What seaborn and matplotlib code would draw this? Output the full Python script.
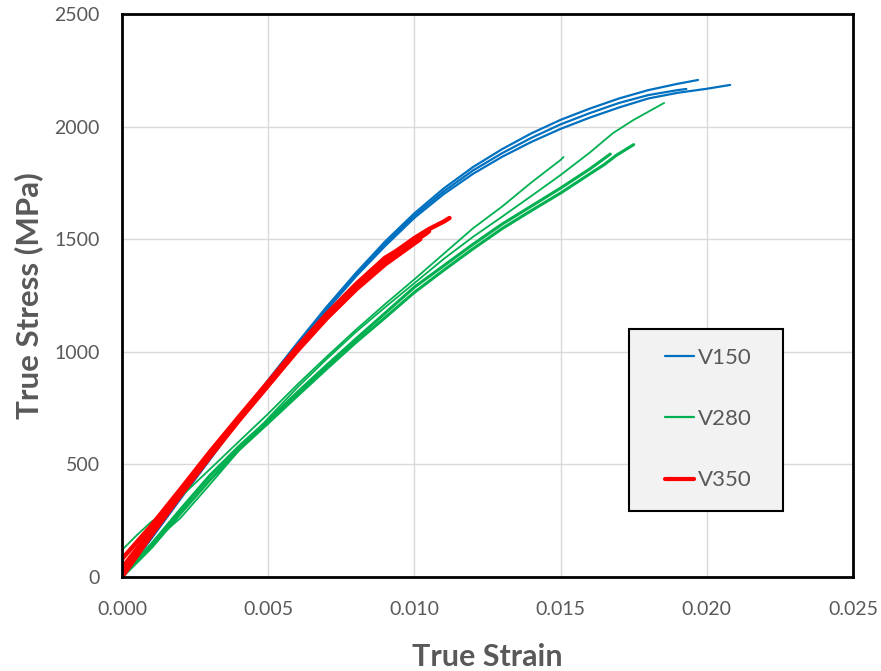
import numpy as np
import pandas as pd
import matplotlib
matplotlib.use("Agg")
import matplotlib.pyplot as plt
import seaborn as sns
from matplotlib.lines import Line2D
from matplotlib.patches import Rectangle

# ---------------- data ----------------
groups = ["V150", "V280", "V350"]
group_colors = ["#0070C0", "#00B050", "#FF0000"]

# V150 specimens
b1_strain = [0, 0.001, 0.002, 0.003, 0.004, 0.005, 0.006, 0.007, 0.008, 0.009, 0.010,
             0.011, 0.012, 0.013, 0.014, 0.015, 0.016, 0.017, 0.018, 0.019, 0.0197]
b1_stress = [0, 175, 355, 530, 705, 875, 1040, 1200, 1350, 1490, 1615,
             1725, 1820, 1900, 1970, 2030, 2080, 2125, 2162, 2190, 2207]
b2_strain = [0, 0.001, 0.002, 0.003, 0.004, 0.005, 0.006, 0.007, 0.008, 0.009, 0.010,
             0.011, 0.012, 0.013, 0.014, 0.015, 0.016, 0.017, 0.018, 0.019, 0.0193]
b2_stress = [0, 172, 350, 525, 700, 868, 1033, 1192, 1342, 1480, 1605,
             1712, 1805, 1882, 1950, 2010, 2060, 2105, 2140, 2162, 2167]
b3_strain = [0, 0.001, 0.002, 0.003, 0.004, 0.005, 0.006, 0.007, 0.008, 0.009, 0.010,
             0.011, 0.012, 0.013, 0.014, 0.015, 0.016, 0.017, 0.018, 0.019, 0.020, 0.0208]
b3_stress = [0, 170, 347, 520, 695, 862, 1027, 1185, 1335, 1470, 1595,
             1700, 1790, 1866, 1932, 1990, 2040, 2085, 2125, 2150, 2168, 2185]

# V280 specimens
g1_strain = [0, 0.0005, 0.001, 0.0015, 0.002, 0.003, 0.004, 0.005, 0.006, 0.007, 0.008,
             0.009, 0.010, 0.011, 0.012, 0.013, 0.014, 0.015, 0.0151]
g1_stress = [120, 185, 245, 290, 355, 478, 602, 725, 855, 978, 1098,
             1212, 1322, 1435, 1548, 1645, 1752, 1852, 1865]
g2_strain = [0, 0.0005, 0.001, 0.0015, 0.002, 0.003, 0.004, 0.005, 0.006, 0.007, 0.008,
             0.009, 0.010, 0.011, 0.012, 0.013, 0.014, 0.015, 0.016, 0.0168, 0.0175, 0.01854]
g2_stress = [0, 70, 145, 205, 262, 410, 562, 705, 842, 968, 1088,
             1198, 1305, 1412, 1510, 1600, 1692, 1785, 1885, 1972, 2030, 2105]
g3_strain = [0, 0.0005, 0.001, 0.002, 0.003, 0.004, 0.005, 0.006, 0.007, 0.008,
             0.009, 0.010, 0.011, 0.012, 0.013, 0.014, 0.015, 0.016, 0.0167]
g3_stress = [0, 75, 145, 300, 450, 580, 697, 820, 940, 1057,
             1172, 1287, 1382, 1477, 1567, 1647, 1727, 1812, 1878]
g4_strain = [0, 0.0005, 0.001, 0.002, 0.003, 0.004, 0.005, 0.006, 0.007, 0.008,
             0.009, 0.010, 0.011, 0.012, 0.013, 0.014, 0.015, 0.016, 0.0165, 0.0169, 0.0175]
g4_stress = [0, 65, 130, 282, 430, 565, 684, 805, 925, 1042,
             1152, 1264, 1362, 1457, 1547, 1627, 1705, 1790, 1832, 1872, 1920]

# V350 specimens
r1_strain = [0, 0.001, 0.002, 0.003, 0.004, 0.005, 0.006, 0.007, 0.008, 0.009, 0.010, 0.0105, 0.011, 0.0112]
r1_stress = [40, 208, 378, 545, 705, 860, 1018, 1165, 1297, 1412, 1505, 1545, 1578, 1594]
r2_strain = [0, 0.001, 0.002, 0.003, 0.004, 0.005, 0.006, 0.007, 0.008, 0.009, 0.010, 0.0105]
r2_stress = [0, 185, 362, 532, 695, 850, 1008, 1152, 1282, 1398, 1490, 1535]
r3_strain = [0, 0.001, 0.002, 0.003, 0.004, 0.005, 0.006, 0.007, 0.008, 0.009, 0.0104]
r3_stress = [80, 228, 390, 555, 712, 866, 1022, 1168, 1300, 1418, 1525]
r4_strain = [0, 0.001, 0.002, 0.003, 0.004, 0.005, 0.006, 0.007, 0.008, 0.009, 0.0102]
r4_stress = [20, 195, 368, 536, 698, 852, 1005, 1148, 1276, 1388, 1500]

x_ticks = [0.0, 0.005, 0.010, 0.015, 0.020, 0.025]
x_tick_labels = ["0.000", "0.005", "0.010", "0.015", "0.020", "0.025"]
y_ticks = [0, 500, 1000, 1500, 2000, 2500]

specimens = [
    ("V150", "B1", b1_strain, b1_stress, 1.6),
    ("V150", "B2", b2_strain, b2_stress, 1.6),
    ("V150", "B3", b3_strain, b3_stress, 1.6),
    ("V280", "G1", g1_strain, g1_stress, 1.3),
    ("V280", "G2", g2_strain, g2_stress, 1.3),
    ("V280", "G3", g3_strain, g3_stress, 2.2),
    ("V280", "G4", g4_strain, g4_stress, 2.2),
    ("V350", "R1", r1_strain, r1_stress, 3.2),
    ("V350", "R2", r2_strain, r2_stress, 3.2),
    ("V350", "R3", r3_strain, r3_stress, 3.2),
    ("V350", "R4", r4_strain, r4_stress, 3.2),
]

frames = []
for grp, sid, xs, ys, lw in specimens:
    frames.append(pd.DataFrame({"strain": xs, "stress": ys, "group": grp, "specimen": sid}))
df = pd.concat(frames, ignore_index=True)

# ---------------- styling ----------------
sns.set_theme(style="white")
plt.rcParams["font.family"] = ["Lato", "DejaVu Sans"]
text_color = "#595959"
palette = dict(zip(groups, group_colors))

fig = plt.figure(figsize=(8.81, 6.71), dpi=100)
ax = fig.add_axes([122 / 881, 1 - 577 / 671, (853 - 122) / 881, (577 - 14) / 671])

for grp, sid, xs, ys, lw in specimens:
    sub = df[df["specimen"] == sid]
    sns.lineplot(data=sub, x="strain", y="stress", color=palette[grp], lw=lw,
                 sort=False, estimator=None, ax=ax, legend=False)

ax.set_xlim(0, 0.025)
ax.set_ylim(0, 2500)
ax.set_xticks(x_ticks)
ax.set_xticklabels(x_tick_labels)
ax.set_yticks(y_ticks)
ax.grid(True, color="#D9D9D9", lw=1.0)
ax.set_axisbelow(True)
ax.tick_params(axis="both", length=0, labelsize=14, labelcolor=text_color)
ax.tick_params(axis="x", pad=17)
ax.tick_params(axis="y", pad=16)
for s in ax.spines.values():
    s.set_visible(True)
    s.set_color("black")
    s.set_linewidth(2.0)

ax.set_xlabel("True Strain", fontsize=22, fontweight="bold", color=text_color, labelpad=18)
ax.set_ylabel("True Stress (MPa)", fontsize=22.5, fontweight="bold", color=text_color, labelpad=8)

# legend frame (drawn as a box) and entries
ax.add_patch(Rectangle(((629 - 122) / 731, (577 - 511) / 563), (783 - 629) / 731, (511 - 329) / 563,
                       transform=ax.transAxes, facecolor="#F2F2F2", edgecolor="black",
                       lw=1.5, zorder=5))
handles = [Line2D([0], [0], color=palette["V150"], lw=1.6),
           Line2D([0], [0], color=palette["V280"], lw=1.6),
           Line2D([0], [0], color=palette["V350"], lw=3.0)]
leg = ax.legend(handles, groups, loc="center left",
                bbox_to_anchor=((665 - 122) / 731, (577 - 419) / 563),
                fontsize=16, frameon=False, labelspacing=1.86,
                handlelength=1.3, handletextpad=0.2, borderpad=0.0,
                borderaxespad=0)
leg.set_zorder(6)
for t in leg.get_texts():
    t.set_color(text_color)

fig.savefig("out.png", dpi=100)
